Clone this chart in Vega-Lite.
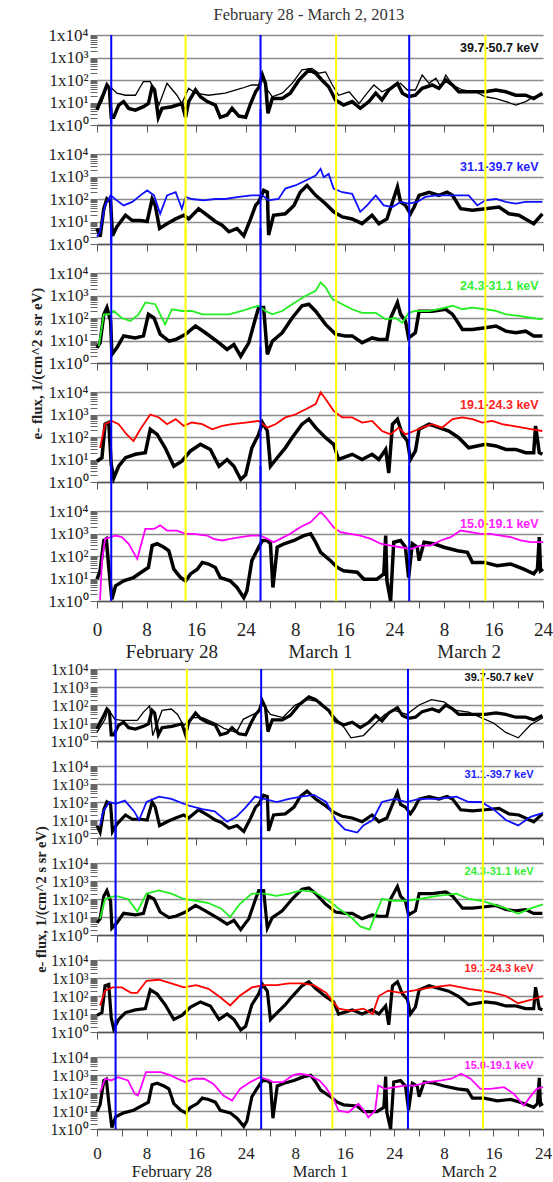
{
"$schema": "https://vega.github.io/schema/vega-lite/v6.json",
"background": "white",
"padding": {"left": 29, "top": 6, "right": 8, "bottom": 0},
"title": {"text": "February 28 - March 2, 2013", "font": "Liberation Serif", "fontSize": 16.5, "fontWeight": "normal", "color": "#333", "anchor": "middle", "offset": 3, "dx": 18},
"config": {"view": {"stroke": null}},
"spacing": 0,
"columns": 1,
"align": "none",
"datasets": {
"markersTop": [{"hour":2.3,"type":"1"},{"hour":26.4,"type":"1"},{"hour":50.4,"type":"1"},{"hour":14.3,"type":"2"},{"hour":38.6,"type":"2"},{"hour":62.7,"type":"2"}],
"markersBottom": [{"hour":3.0,"type":"1"},{"hour":26.5,"type":"1"},{"hour":50.2,"type":"1"},{"hour":14.5,"type":"2"},{"hour":38.0,"type":"2"},{"hour":62.3,"type":"2"}],
"obs1": [{"hour":0,"flux":4.7},{"hour":0.5,"flux":11},{"hour":1.1,"flux":26},{"hour":1.6,"flux":60},{"hour":2.0,"flux":43},{"hour":2.3,"flux":2.2},{"hour":2.7,"flux":2.2},{"hour":3.5,"flux":7.7},{"hour":4.3,"flux":11},{"hour":5.1,"flux":5.5},{"hour":6.2,"flux":4.6},{"hour":7.5,"flux":6.5},{"hour":8.3,"flux":9},{"hour":8.9,"flux":50},{"hour":9.3,"flux":36},{"hour":9.9,"flux":2.2},{"hour":10.5,"flux":5.5},{"hour":12.1,"flux":6.5},{"hour":13.7,"flux":9},{"hour":14.3,"flux":2.2},{"hour":14.8,"flux":11},{"hour":15.9,"flux":36},{"hour":16.7,"flux":18},{"hour":17.8,"flux":11},{"hour":19.1,"flux":7.7},{"hour":19.9,"flux":2.2},{"hour":21.0,"flux":2.8},{"hour":21.8,"flux":5.5},{"hour":22.9,"flux":2.5},{"hour":24.0,"flux":2.2},{"hour":24.8,"flux":9},{"hour":25.6,"flux":30},{"hour":26.2,"flux":50},{"hour":26.7,"flux":166},{"hour":27.2,"flux":71},{"hour":27.6,"flux":3.3},{"hour":28.3,"flux":15},{"hour":29.9,"flux":15},{"hour":31.2,"flux":26},{"hour":32.6,"flux":100},{"hour":34.2,"flux":280},{"hour":35.3,"flux":200},{"hour":36.3,"flux":100},{"hour":37.4,"flux":50},{"hour":38.5,"flux":13},{"hour":39.8,"flux":7.7},{"hour":41.2,"flux":11},{"hour":42.5,"flux":5.5},{"hour":43.9,"flux":11},{"hour":45.0,"flux":26},{"hour":46.0,"flux":13},{"hour":47.1,"flux":36},{"hour":48.5,"flux":71},{"hour":49.3,"flux":26},{"hour":50.3,"flux":18},{"hour":51.4,"flux":21},{"hour":52.5,"flux":43},{"hour":54.1,"flux":60},{"hour":55.2,"flux":43},{"hour":56.3,"flux":100},{"hour":57.4,"flux":60},{"hour":58.4,"flux":30},{"hour":60.6,"flux":30},{"hour":62.7,"flux":30},{"hour":64.4,"flux":36},{"hour":66.0,"flux":30},{"hour":67.6,"flux":21},{"hour":69.2,"flux":21},{"hour":70.5,"flux":15},{"hour":71.9,"flux":26}],
"modelA1": [{"hour":0,"flux":4.7},{"hour":0.8,"flux":11},{"hour":1.6,"flux":50},{"hour":2.4,"flux":43},{"hour":3.2,"flux":26},{"hour":4.6,"flux":21},{"hour":6.2,"flux":21},{"hour":7.0,"flux":50},{"hour":7.5,"flux":85},{"hour":8.6,"flux":85},{"hour":9.4,"flux":26},{"hour":10.0,"flux":7.7},{"hour":11.3,"flux":71},{"hour":12.9,"flux":21},{"hour":13.7,"flux":9},{"hour":14.8,"flux":43},{"hour":15.9,"flux":26},{"hour":18.0,"flux":21},{"hour":20.7,"flux":26},{"hour":23.4,"flux":43},{"hour":25.0,"flux":60},{"hour":26.1,"flux":60},{"hour":26.9,"flux":140},{"hour":27.5,"flux":36},{"hour":28.3,"flux":18},{"hour":29.9,"flux":26},{"hour":31.5,"flux":71},{"hour":33.1,"flux":280},{"hour":34.7,"flux":330},{"hour":35.8,"flux":200},{"hour":36.9,"flux":230},{"hour":38.0,"flux":60},{"hour":39.0,"flux":21},{"hour":40.7,"flux":30},{"hour":42.3,"flux":9},{"hour":43.6,"flux":26},{"hour":44.7,"flux":60},{"hour":46.0,"flux":30},{"hour":47.7,"flux":50},{"hour":49.0,"flux":71},{"hour":50.1,"flux":36},{"hour":51.4,"flux":36},{"hour":52.5,"flux":166},{"hour":53.6,"flux":71},{"hour":54.7,"flux":120},{"hour":55.5,"flux":50},{"hour":56.3,"flux":166},{"hour":57.4,"flux":60},{"hour":59.0,"flux":36},{"hour":61.1,"flux":30},{"hour":62.7,"flux":18},{"hour":64.4,"flux":15},{"hour":66.0,"flux":11},{"hour":67.6,"flux":7.7},{"hour":69.2,"flux":11},{"hour":70.5,"flux":18},{"hour":71.9,"flux":21}],
"obs2": [{"hour":0,"flux":4.9},{"hour":0.5,"flux":2.1},{"hour":1.1,"flux":37},{"hour":1.6,"flux":100},{"hour":2.2,"flux":74},{"hour":2.5,"flux":2.3},{"hour":3.2,"flux":5.8},{"hour":4.6,"flux":19},{"hour":5.7,"flux":11},{"hour":7.0,"flux":11},{"hour":8.1,"flux":10},{"hour":8.9,"flux":100},{"hour":9.4,"flux":52},{"hour":10.1,"flux":4.9},{"hour":11.3,"flux":8},{"hour":12.7,"flux":13},{"hour":14.0,"flux":19},{"hour":14.8,"flux":13},{"hour":16.4,"flux":37},{"hour":17.8,"flux":19},{"hour":19.1,"flux":10},{"hour":20.2,"flux":6.9},{"hour":21.3,"flux":3.5},{"hour":22.6,"flux":4.9},{"hour":23.7,"flux":2.3},{"hour":24.8,"flux":13},{"hour":25.6,"flux":52},{"hour":26.1,"flux":74},{"hour":26.9,"flux":240},{"hour":27.5,"flux":200},{"hour":27.7,"flux":2.5},{"hour":28.5,"flux":19},{"hour":30.4,"flux":22},{"hour":31.8,"flux":52},{"hour":32.8,"flux":200},{"hour":33.9,"flux":400},{"hour":35.3,"flux":145},{"hour":36.9,"flux":62},{"hour":38.2,"flux":27},{"hour":39.6,"flux":16},{"hour":41.2,"flux":13},{"hour":42.8,"flux":8},{"hour":44.4,"flux":19},{"hour":45.5,"flux":8},{"hour":46.8,"flux":13},{"hour":47.7,"flux":74},{"hour":48.5,"flux":340},{"hour":49.0,"flux":74},{"hour":49.8,"flux":52},{"hour":50.6,"flux":22},{"hour":51.2,"flux":44},{"hour":52.0,"flux":145},{"hour":53.6,"flux":200},{"hour":55.2,"flux":145},{"hour":56.5,"flux":200},{"hour":57.4,"flux":145},{"hour":58.7,"flux":37},{"hour":60.6,"flux":32},{"hour":62.7,"flux":37},{"hour":64.9,"flux":44},{"hour":66.5,"flux":22},{"hour":68.1,"flux":19},{"hour":70.5,"flux":8},{"hour":71.9,"flux":22}],
"modelA2": [{"hour":0,"flux":2.1},{"hour":0.5,"flux":3.5},{"hour":1.3,"flux":52},{"hour":2.2,"flux":145},{"hour":3.2,"flux":87},{"hour":4.3,"flux":52},{"hour":5.7,"flux":74},{"hour":7.0,"flux":145},{"hour":8.1,"flux":240},{"hour":9.2,"flux":145},{"hour":10.2,"flux":22},{"hour":11.3,"flux":145},{"hour":12.7,"flux":200},{"hour":13.7,"flux":37},{"hour":14.3,"flux":123},{"hour":15.3,"flux":100},{"hour":17.2,"flux":87},{"hour":19.1,"flux":100},{"hour":20.7,"flux":100},{"hour":22.9,"flux":123},{"hour":25.0,"flux":145},{"hour":26.7,"flux":145},{"hour":27.7,"flux":87},{"hour":29.3,"flux":100},{"hour":30.4,"flux":290},{"hour":32.0,"flux":400},{"hour":33.7,"flux":660},{"hour":35.3,"flux":1100},{"hour":36.1,"flux":2200},{"hour":36.6,"flux":930},{"hour":37.4,"flux":1300},{"hour":38.2,"flux":290},{"hour":39.6,"flux":200},{"hour":41.2,"flux":170},{"hour":42.5,"flux":27},{"hour":43.6,"flux":52},{"hour":45.0,"flux":145},{"hour":46.3,"flux":52},{"hour":47.7,"flux":44},{"hour":49.0,"flux":74},{"hour":50.3,"flux":62},{"hour":51.7,"flux":74},{"hour":53.0,"flux":123},{"hour":54.7,"flux":145},{"hour":56.3,"flux":145},{"hour":57.9,"flux":145},{"hour":60.0,"flux":145},{"hour":61.4,"flux":52},{"hour":62.7,"flux":87},{"hour":64.4,"flux":100},{"hour":66.0,"flux":74},{"hour":67.6,"flux":62},{"hour":69.2,"flux":74},{"hour":71.9,"flux":74}],
"obs3": [{"hour":0,"flux":4.7},{"hour":0.5,"flux":7.9},{"hour":1.1,"flux":145},{"hour":1.6,"flux":290},{"hour":2.2,"flux":74},{"hour":2.4,"flux":2.4},{"hour":3.2,"flux":4.7},{"hour":4.3,"flux":16},{"hour":6.2,"flux":13},{"hour":7.5,"flux":16},{"hour":8.3,"flux":145},{"hour":9.2,"flux":100},{"hour":10.2,"flux":19},{"hour":11.6,"flux":9.3},{"hour":12.7,"flux":11},{"hour":14.3,"flux":19},{"hour":15.9,"flux":44},{"hour":17.5,"flux":22},{"hour":19.7,"flux":7.9},{"hour":21.0,"flux":4},{"hour":22.1,"flux":6.6},{"hour":23.2,"flux":2},{"hour":24.5,"flux":7.9},{"hour":25.6,"flux":100},{"hour":26.1,"flux":290},{"hour":26.9,"flux":290},{"hour":27.5,"flux":2.4},{"hour":28.3,"flux":9.3},{"hour":29.9,"flux":22},{"hour":31.5,"flux":100},{"hour":33.1,"flux":350},{"hour":34.2,"flux":410},{"hour":35.3,"flux":200},{"hour":36.9,"flux":52},{"hour":38.5,"flux":19},{"hour":40.1,"flux":16},{"hour":41.2,"flux":16},{"hour":42.8,"flux":7.9},{"hour":44.4,"flux":13},{"hour":45.5,"flux":11},{"hour":46.8,"flux":11},{"hour":47.4,"flux":100},{"hour":48.5,"flux":490},{"hour":49.0,"flux":145},{"hour":49.8,"flux":74},{"hour":50.3,"flux":13},{"hour":51.4,"flux":22},{"hour":52.0,"flux":200},{"hour":54.1,"flux":200},{"hour":56.3,"flux":245},{"hour":57.4,"flux":145},{"hour":59.0,"flux":31},{"hour":60.6,"flux":31},{"hour":62.7,"flux":37},{"hour":64.4,"flux":44},{"hour":66.0,"flux":26},{"hour":67.6,"flux":22},{"hour":69.2,"flux":26},{"hour":70.5,"flux":16},{"hour":71.9,"flux":16}],
"modelA3": [{"hour":0.3,"flux":5.6},{"hour":1.1,"flux":145},{"hour":1.9,"flux":145},{"hour":2.7,"flux":205},{"hour":4.0,"flux":100},{"hour":5.4,"flux":74},{"hour":6.7,"flux":145},{"hour":7.8,"flux":490},{"hour":9.4,"flux":410},{"hour":10.2,"flux":145},{"hour":11.0,"flux":52},{"hour":12.1,"flux":245},{"hour":13.7,"flux":205},{"hour":15.3,"flux":205},{"hour":17.0,"flux":145},{"hour":19.1,"flux":145},{"hour":21.3,"flux":145},{"hour":23.4,"flux":205},{"hour":25.0,"flux":290},{"hour":26.1,"flux":350},{"hour":27.2,"flux":205},{"hour":28.3,"flux":145},{"hour":29.9,"flux":205},{"hour":31.5,"flux":410},{"hour":33.7,"flux":970},{"hour":35.3,"flux":1600},{"hour":36.1,"flux":3800},{"hour":36.9,"flux":2300},{"hour":38.0,"flux":690},{"hour":39.6,"flux":410},{"hour":41.2,"flux":245},{"hour":42.8,"flux":170},{"hour":45.0,"flux":170},{"hour":46.6,"flux":87},{"hour":48.2,"flux":100},{"hour":49.3,"flux":62},{"hour":50.3,"flux":170},{"hour":51.4,"flux":205},{"hour":53.6,"flux":205},{"hour":55.2,"flux":245},{"hour":57.4,"flux":350},{"hour":59.0,"flux":245},{"hour":60.6,"flux":290},{"hour":62.7,"flux":245},{"hour":64.4,"flux":205},{"hour":66.0,"flux":145},{"hour":68.1,"flux":123},{"hour":70.3,"flux":100},{"hour":71.9,"flux":87}],
"obs4": [{"hour":0,"flux":8.4},{"hour":0.8,"flux":12},{"hour":1.3,"flux":370},{"hour":1.9,"flux":440},{"hour":2.3,"flux":6},{"hour":2.7,"flux":1.5},{"hour":3.5,"flux":5},{"hour":4.6,"flux":12},{"hour":6.2,"flux":17},{"hour":7.8,"flux":20},{"hour":8.6,"flux":220},{"hour":9.7,"flux":130},{"hour":11.0,"flux":33},{"hour":12.4,"flux":5},{"hour":13.7,"flux":8.4},{"hour":15.1,"flux":24},{"hour":16.7,"flux":47},{"hour":18.3,"flux":28},{"hour":19.7,"flux":5},{"hour":21.0,"flux":10},{"hour":22.1,"flux":5},{"hour":23.2,"flux":1.3},{"hour":24.0,"flux":2.1},{"hour":25.0,"flux":33},{"hour":26.1,"flux":130},{"hour":26.7,"flux":440},{"hour":27.5,"flux":185},{"hour":28.0,"flux":5},{"hour":29.1,"flux":12},{"hour":30.4,"flux":33},{"hour":31.5,"flux":93},{"hour":33.1,"flux":370},{"hour":34.2,"flux":620},{"hour":35.3,"flux":260},{"hour":36.9,"flux":93},{"hour":38.2,"flux":47},{"hour":39.0,"flux":10},{"hour":41.2,"flux":17},{"hour":42.8,"flux":10},{"hour":44.4,"flux":17},{"hour":45.5,"flux":10},{"hour":46.6,"flux":28},{"hour":47.1,"flux":2.5},{"hour":47.7,"flux":370},{"hour":48.5,"flux":620},{"hour":49.3,"flux":130},{"hour":50.1,"flux":66},{"hour":50.6,"flux":10},{"hour":51.4,"flux":24},{"hour":52.0,"flux":220},{"hour":53.6,"flux":370},{"hour":55.2,"flux":260},{"hour":56.8,"flux":185},{"hour":58.4,"flux":93},{"hour":60.0,"flux":33},{"hour":62.7,"flux":47},{"hour":64.4,"flux":40},{"hour":66.0,"flux":28},{"hour":67.6,"flux":28},{"hour":69.2,"flux":20},{"hour":70.5,"flux":20},{"hour":70.8,"flux":310},{"hour":71.4,"flux":20},{"hour":71.9,"flux":17}],
"modelA4": [{"hour":0.5,"flux":33},{"hour":1.3,"flux":370},{"hour":2.4,"flux":520},{"hour":3.5,"flux":370},{"hour":4.8,"flux":130},{"hour":5.9,"flux":66},{"hour":7.0,"flux":220},{"hour":8.6,"flux":1000},{"hour":10.0,"flux":740},{"hour":11.3,"flux":370},{"hour":12.7,"flux":620},{"hour":14.0,"flux":310},{"hour":15.3,"flux":440},{"hour":17.0,"flux":370},{"hour":18.6,"flux":220},{"hour":20.2,"flux":310},{"hour":21.8,"flux":370},{"hour":24.0,"flux":440},{"hour":26.1,"flux":520},{"hour":27.5,"flux":260},{"hour":28.8,"flux":370},{"hour":30.4,"flux":740},{"hour":32.0,"flux":1000},{"hour":33.7,"flux":1700},{"hour":35.3,"flux":2900},{"hour":36.1,"flux":9700},{"hour":36.9,"flux":4900},{"hour":38.2,"flux":1450},{"hour":39.6,"flux":740},{"hour":41.2,"flux":740},{"hour":42.8,"flux":440},{"hour":44.4,"flux":520},{"hour":46.0,"flux":185},{"hour":47.4,"flux":130},{"hour":48.7,"flux":260},{"hour":49.8,"flux":130},{"hour":51.2,"flux":185},{"hour":52.5,"flux":260},{"hour":54.1,"flux":370},{"hour":55.7,"flux":260},{"hour":57.4,"flux":620},{"hour":59.0,"flux":740},{"hour":60.6,"flux":620},{"hour":62.2,"flux":440},{"hour":63.8,"flux":520},{"hour":65.4,"flux":370},{"hour":67.1,"flux":310},{"hour":68.7,"flux":260},{"hour":70.3,"flux":220},{"hour":71.9,"flux":185}],
"obs5": [{"hour":0,"flux":9.3},{"hour":0.5,"flux":22},{"hour":1.1,"flux":490},{"hour":1.5,"flux":580},{"hour":1.9,"flux":31},{"hour":2.4,"flux":1.2},{"hour":3.0,"flux":4.7},{"hour":4.3,"flux":7.9},{"hour":5.9,"flux":11},{"hour":7.5,"flux":22},{"hour":8.3,"flux":31},{"hour":8.9,"flux":290},{"hour":9.7,"flux":350},{"hour":10.8,"flux":245},{"hour":11.6,"flux":170},{"hour":12.4,"flux":26},{"hour":13.5,"flux":11},{"hour":14.3,"flux":7.9},{"hour":15.1,"flux":16},{"hour":16.2,"flux":26},{"hour":17.0,"flux":52},{"hour":18.0,"flux":44},{"hour":19.1,"flux":31},{"hour":19.9,"flux":11},{"hour":21.5,"flux":7.9},{"hour":22.6,"flux":4},{"hour":23.7,"flux":1.4},{"hour":24.2,"flux":2.8},{"hour":25.0,"flux":62},{"hour":25.8,"flux":170},{"hour":26.7,"flux":490},{"hour":27.5,"flux":490},{"hour":28.0,"flux":350},{"hour":28.4,"flux":4},{"hour":29.1,"flux":245},{"hour":30.2,"flux":350},{"hour":31.8,"flux":490},{"hour":33.4,"flux":810},{"hour":34.5,"flux":970},{"hour":35.3,"flux":410},{"hour":36.1,"flux":145},{"hour":37.7,"flux":62},{"hour":38.8,"flux":31},{"hour":39.8,"flux":22},{"hour":42.0,"flux":19},{"hour":43.1,"flux":9.3},{"hour":45.2,"flux":9.3},{"hour":46.3,"flux":16},{"hour":46.6,"flux":810},{"hour":46.8,"flux":7.9},{"hour":47.4,"flux":1},{"hour":47.9,"flux":410},{"hour":49.0,"flux":490},{"hour":49.8,"flux":245},{"hour":50.3,"flux":11},{"hour":50.9,"flux":350},{"hour":51.7,"flux":245},{"hour":52.0,"flux":62},{"hour":52.8,"flux":410},{"hour":54.4,"flux":350},{"hour":56.0,"flux":245},{"hour":58.2,"flux":170},{"hour":59.8,"flux":145},{"hour":60.6,"flux":52},{"hour":62.5,"flux":52},{"hour":64.6,"flux":37},{"hour":66.8,"flux":44},{"hour":68.9,"flux":26},{"hour":70.5,"flux":16},{"hour":71.1,"flux":26},{"hour":71.4,"flux":690},{"hour":71.6,"flux":22},{"hour":72,"flux":26}],
"modelA5": [{"hour":0.5,"flux":1.1},{"hour":0.8,"flux":62},{"hour":1.3,"flux":580},{"hour":2.2,"flux":690},{"hour":3.0,"flux":810},{"hour":4.0,"flux":690},{"hour":5.1,"flux":350},{"hour":5.9,"flux":145},{"hour":6.5,"flux":74},{"hour":7.0,"flux":245},{"hour":7.8,"flux":1600},{"hour":9.2,"flux":1600},{"hour":10.2,"flux":2300},{"hour":11.3,"flux":1350},{"hour":12.9,"flux":1350},{"hour":14.3,"flux":970},{"hour":15.6,"flux":970},{"hour":17.8,"flux":810},{"hour":18.8,"flux":580},{"hour":20.2,"flux":490},{"hour":21.5,"flux":580},{"hour":23.2,"flux":690},{"hour":24.8,"flux":810},{"hour":26.4,"flux":810},{"hour":27.5,"flux":580},{"hour":28.5,"flux":410},{"hour":29.6,"flux":580},{"hour":31.2,"flux":970},{"hour":32.8,"flux":1900},{"hour":34.5,"flux":3200},{"hour":36.1,"flux":9100},{"hour":36.9,"flux":5400},{"hour":38.2,"flux":1900},{"hour":39.3,"flux":1150},{"hour":40.9,"flux":970},{"hour":42.5,"flux":810},{"hour":44.2,"flux":580},{"hour":45.8,"flux":350},{"hour":47.4,"flux":290},{"hour":49.0,"flux":245},{"hour":50.6,"flux":205},{"hour":52.2,"flux":290},{"hour":53.8,"flux":290},{"hour":55.5,"flux":490},{"hour":57.1,"flux":690},{"hour":58.7,"flux":1350},{"hour":60.3,"flux":1150},{"hour":61.9,"flux":970},{"hour":63.5,"flux":970},{"hour":65.2,"flux":810},{"hour":66.8,"flux":690},{"hour":68.4,"flux":490},{"hour":70.0,"flux":410},{"hour":72,"flux":410}],
"modelB1": [{"hour":0,"flux":3},{"hour":1.3,"flux":16},{"hour":1.8,"flux":59},{"hour":2.9,"flux":16},{"hour":4,"flux":14},{"hour":6.5,"flux":14},{"hour":7.5,"flux":40},{"hour":8.5,"flux":90},{"hour":9,"flux":2},{"hour":10.5,"flux":50},{"hour":12,"flux":60},{"hour":13,"flux":30},{"hour":14,"flux":7},{"hour":15.5,"flux":20},{"hour":17,"flux":20},{"hour":19,"flux":10},{"hour":20.5,"flux":5},{"hour":22.5,"flux":3},{"hour":23.6,"flux":16},{"hour":25.8,"flux":38},{"hour":26.8,"flux":110},{"hour":28,"flux":30},{"hour":30,"flux":20},{"hour":32,"flux":100},{"hour":34,"flux":200},{"hour":36,"flux":150},{"hour":38,"flux":30},{"hour":40,"flux":5},{"hour":41,"flux":1.5},{"hour":43,"flux":2},{"hour":45,"flux":10},{"hour":46.5,"flux":30},{"hour":48,"flux":50},{"hour":50,"flux":30},{"hour":52,"flux":100},{"hour":54,"flux":200},{"hour":56,"flux":150},{"hour":58,"flux":50},{"hour":60,"flux":40},{"hour":62,"flux":20},{"hour":64,"flux":10},{"hour":66,"flux":3},{"hour":68,"flux":1.5},{"hour":70,"flux":8},{"hour":72,"flux":20}],
"modelB2": [{"hour":0.5,"flux":5},{"hour":1,"flux":30},{"hour":2,"flux":100},{"hour":3,"flux":80},{"hour":4.5,"flux":120},{"hour":6,"flux":30},{"hour":6.8,"flux":10},{"hour":8,"flux":100},{"hour":10,"flux":200},{"hour":12,"flux":150},{"hour":14,"flux":80},{"hour":15,"flux":60},{"hour":17,"flux":40},{"hour":19,"flux":30},{"hour":21,"flux":8},{"hour":22.5,"flux":15},{"hour":24,"flux":50},{"hour":25.5,"flux":200},{"hour":27,"flux":150},{"hour":29,"flux":100},{"hour":31,"flux":150},{"hour":33,"flux":200},{"hour":35,"flux":250},{"hour":37,"flux":100},{"hour":38.5,"flux":10},{"hour":40,"flux":3},{"hour":42,"flux":2},{"hour":43,"flux":5},{"hour":44.5,"flux":10},{"hour":46,"flux":100},{"hour":48,"flux":150},{"hour":50,"flux":100},{"hour":52,"flux":150},{"hour":55,"flux":150},{"hour":58,"flux":200},{"hour":60,"flux":100},{"hour":62,"flux":100},{"hour":64,"flux":40},{"hour":66,"flux":10},{"hour":68,"flux":5},{"hour":70,"flux":15},{"hour":72,"flux":25}],
"modelB3": [{"hour":0.5,"flux":8},{"hour":1.3,"flux":100},{"hour":3,"flux":150},{"hour":5,"flux":100},{"hour":6.5,"flux":20},{"hour":8,"flux":200},{"hour":10,"flux":300},{"hour":12,"flux":200},{"hour":14,"flux":100},{"hour":16,"flux":80},{"hour":18,"flux":60},{"hour":20,"flux":30},{"hour":21.5,"flux":10},{"hour":23,"flux":50},{"hour":25,"flux":200},{"hour":27,"flux":200},{"hour":29,"flux":150},{"hour":31,"flux":200},{"hour":33,"flux":300},{"hour":35,"flux":250},{"hour":37,"flux":100},{"hour":39,"flux":30},{"hour":41,"flux":10},{"hour":42.5,"flux":3},{"hour":44,"flux":2},{"hour":45,"flux":15},{"hour":46,"flux":100},{"hour":48,"flux":80},{"hour":50,"flux":80},{"hour":52,"flux":100},{"hour":55,"flux":150},{"hour":58,"flux":200},{"hour":60,"flux":100},{"hour":62,"flux":80},{"hour":64,"flux":50},{"hour":66,"flux":30},{"hour":68,"flux":15},{"hour":70,"flux":30},{"hour":72,"flux":50}],
"modelB4": [{"hour":0.5,"flux":30},{"hour":1.3,"flux":200},{"hour":2.5,"flux":300},{"hour":4,"flux":300},{"hour":5.5,"flux":150},{"hour":6.5,"flux":150},{"hour":8,"flux":700},{"hour":10,"flux":800},{"hour":12,"flux":500},{"hour":14,"flux":300},{"hour":16,"flux":400},{"hour":18,"flux":250},{"hour":20,"flux":80},{"hour":21.5,"flux":30},{"hour":23,"flux":100},{"hour":25,"flux":300},{"hour":27,"flux":400},{"hour":29,"flux":400},{"hour":31,"flux":500},{"hour":33,"flux":500},{"hour":35,"flux":400},{"hour":37,"flux":150},{"hour":39,"flux":20},{"hour":41,"flux":15},{"hour":43,"flux":20},{"hour":44.5,"flux":10},{"hour":45.5,"flux":100},{"hour":47,"flux":200},{"hour":49,"flux":150},{"hour":51,"flux":200},{"hour":54,"flux":300},{"hour":57,"flux":400},{"hour":60,"flux":250},{"hour":62,"flux":200},{"hour":64,"flux":150},{"hour":66,"flux":100},{"hour":68,"flux":40},{"hour":70,"flux":60},{"hour":72,"flux":100}],
"modelB5": [{"hour":0.5,"flux":110},{"hour":1.3,"flux":620},{"hour":2.3,"flux":500},{"hour":3.4,"flux":760},{"hour":5.0,"flux":500},{"hour":6.1,"flux":90},{"hour":6.6,"flux":72},{"hour":7.1,"flux":210},{"hour":7.9,"flux":1450},{"hour":9.3,"flux":1450},{"hour":10.3,"flux":1450},{"hour":11.9,"flux":950},{"hour":13.0,"flux":620},{"hour":14.3,"flux":400},{"hour":15.7,"flux":620},{"hour":17.3,"flux":620},{"hour":18.8,"flux":320},{"hour":20.4,"flux":72},{"hour":21.8,"flux":38},{"hour":23.1,"flux":170},{"hour":24.7,"flux":400},{"hour":26.3,"flux":760},{"hour":27.9,"flux":500},{"hour":28.4,"flux":400},{"hour":30.0,"flux":400},{"hour":31.6,"flux":950},{"hour":32.7,"flux":1170},{"hour":34.3,"flux":950},{"hour":35.9,"flux":500},{"hour":36.9,"flux":210},{"hour":38.2,"flux":47},{"hour":39.0,"flux":10.5},{"hour":40.6,"flux":8.5},{"hour":42.2,"flux":25},{"hour":43.3,"flux":8.5},{"hour":43.8,"flux":4.5},{"hour":44.9,"flux":10.5},{"hour":45.4,"flux":260},{"hour":46.5,"flux":170},{"hour":48.1,"flux":210},{"hour":49.7,"flux":260},{"hour":51.3,"flux":260},{"hour":53.4,"flux":400},{"hour":55.6,"flux":500},{"hour":57.2,"flux":620},{"hour":58.8,"flux":1170},{"hour":60.3,"flux":620},{"hour":61.9,"flux":170},{"hour":63.5,"flux":170},{"hour":65.7,"flux":210},{"hour":67.3,"flux":90},{"hour":68.9,"flux":20},{"hour":69.9,"flux":59},{"hour":71.0,"flux":170},{"hour":72,"flux":210}]
},
"concat": [
{"bounds": "flush", "spacing": 29, "vconcat": [
{"width": 446, "height": 90, "layer": [
{"data": {"name": "obs1"}, "mark": {"type": "line", "color": "#000", "strokeWidth": 3.5}, "encoding": {"x": {"field": "hour", "type": "quantitative", "scale": {"domain": [0, 72], "nice": false, "zero": false}, "axis": {"values": [0,4,8,12,16,20,24,28,32,36,40,44,48,52,56,60,64,68,72], "labels": false, "title": null, "grid": false, "tickSize": 7, "tickColor": "#555", "domainColor": "#555", "domainWidth": 1.5}}, "y": {"field": "flux", "type": "quantitative", "scale": {"type": "log", "domain": [1, 10000], "nice": false}, "axis": {"values": [1,2,3,4,5,6,7,8,9,10,20,30,40,50,60,70,80,90,100,200,300,400,500,600,700,800,900,1000,2000,3000,4000,5000,6000,7000,8000,9000,10000], "labelExpr": "datum.value == 1 ? '1x10⁰' : datum.value == 10 ? '1x10¹' : datum.value == 100 ? '1x10²' : datum.value == 1000 ? '1x10³' : datum.value == 10000 ? '1x10⁴' : ''", "labelOverlap": false, "labelBound": false, "labelFlush": false, "grid": true, "gridColor": "#8c8c8c", "gridWidth": 1.5, "gridOpacity": {"condition": {"test": "datum.value == 1 || datum.value == 10 || datum.value == 100 || datum.value == 1000 || datum.value == 10000", "value": 1}, "value": 0}, "tickSize": 7, "tickColor": "#666", "domain": false, "title": null, "labelFont": "Liberation Serif", "labelFontSize": 17, "labelColor": "#222", "labelPadding": 2}}}},
{"data": {"name": "modelA1"}, "mark": {"type": "line", "color": "#000", "strokeWidth": 1.3}, "encoding": {"x": {"field": "hour", "type": "quantitative"}, "y": {"field": "flux", "type": "quantitative"}}},
{"data": {"values": [{"channel": "39.7-50.7 keV"}]}, "mark": {"type": "text", "align": "right", "baseline": "middle", "font": "Liberation Sans", "fontWeight": "bold", "fontSize": 12.5, "color": "#111"}, "encoding": {"text": {"field": "channel"}, "x": {"datum": 71.3, "type": "quantitative"}, "y": {"datum": 2600, "type": "quantitative"}}},
{"data": {"name": "markersTop"}, "mark": {"type": "rule", "strokeWidth": 2}, "encoding": {"x": {"field": "hour", "type": "quantitative"}, "y": {"datum": 1, "type": "quantitative"}, "y2": {"datum": 10000}, "color": {"field": "type", "type": "nominal", "scale": {"domain": ["1", "2"], "range": ["#0000ff", "#ffff00"]}, "legend": null}}}
]},
{"width": 446, "height": 90, "layer": [
{"data": {"name": "obs2"}, "mark": {"type": "line", "color": "#000", "strokeWidth": 3.5}, "encoding": {"x": {"field": "hour", "type": "quantitative", "scale": {"domain": [0, 72], "nice": false, "zero": false}, "axis": {"values": [0,4,8,12,16,20,24,28,32,36,40,44,48,52,56,60,64,68,72], "labels": false, "title": null, "grid": false, "tickSize": 7, "tickColor": "#555", "domainColor": "#555", "domainWidth": 1.5}}, "y": {"field": "flux", "type": "quantitative", "scale": {"type": "log", "domain": [1, 10000], "nice": false}, "axis": {"values": [1,2,3,4,5,6,7,8,9,10,20,30,40,50,60,70,80,90,100,200,300,400,500,600,700,800,900,1000,2000,3000,4000,5000,6000,7000,8000,9000,10000], "labelExpr": "datum.value == 1 ? '1x10⁰' : datum.value == 10 ? '1x10¹' : datum.value == 100 ? '1x10²' : datum.value == 1000 ? '1x10³' : datum.value == 10000 ? '1x10⁴' : ''", "labelOverlap": false, "labelBound": false, "labelFlush": false, "grid": true, "gridColor": "#8c8c8c", "gridWidth": 1.5, "gridOpacity": {"condition": {"test": "datum.value == 1 || datum.value == 10 || datum.value == 100 || datum.value == 1000 || datum.value == 10000", "value": 1}, "value": 0}, "tickSize": 7, "tickColor": "#666", "domain": false, "title": null, "labelFont": "Liberation Serif", "labelFontSize": 17, "labelColor": "#222", "labelPadding": 2}}}},
{"data": {"name": "modelA2"}, "mark": {"type": "line", "color": "#1010ff", "strokeWidth": 1.8}, "encoding": {"x": {"field": "hour", "type": "quantitative"}, "y": {"field": "flux", "type": "quantitative"}}},
{"data": {"values": [{"channel": "31.1-39.7 keV"}]}, "mark": {"type": "text", "align": "right", "baseline": "middle", "font": "Liberation Sans", "fontWeight": "bold", "fontSize": 12.5, "color": "#2222ff"}, "encoding": {"text": {"field": "channel"}, "x": {"datum": 71.3, "type": "quantitative"}, "y": {"datum": 2600, "type": "quantitative"}}},
{"data": {"name": "markersTop"}, "mark": {"type": "rule", "strokeWidth": 2}, "encoding": {"x": {"field": "hour", "type": "quantitative"}, "y": {"datum": 1, "type": "quantitative"}, "y2": {"datum": 1000000}, "color": {"field": "type", "type": "nominal", "scale": {"domain": ["1", "2"], "range": ["#0000ff", "#ffff00"]}, "legend": null}}}
]},
{"width": 446, "height": 90, "layer": [
{"data": {"name": "obs3"}, "mark": {"type": "line", "color": "#000", "strokeWidth": 3.5}, "encoding": {"x": {"field": "hour", "type": "quantitative", "scale": {"domain": [0, 72], "nice": false, "zero": false}, "axis": {"values": [0,4,8,12,16,20,24,28,32,36,40,44,48,52,56,60,64,68,72], "labels": false, "title": null, "grid": false, "tickSize": 7, "tickColor": "#555", "domainColor": "#555", "domainWidth": 1.5}}, "y": {"field": "flux", "type": "quantitative", "scale": {"type": "log", "domain": [1, 10000], "nice": false}, "axis": {"values": [1,2,3,4,5,6,7,8,9,10,20,30,40,50,60,70,80,90,100,200,300,400,500,600,700,800,900,1000,2000,3000,4000,5000,6000,7000,8000,9000,10000], "labelExpr": "datum.value == 1 ? '1x10⁰' : datum.value == 10 ? '1x10¹' : datum.value == 100 ? '1x10²' : datum.value == 1000 ? '1x10³' : datum.value == 10000 ? '1x10⁴' : ''", "labelOverlap": false, "labelBound": false, "labelFlush": false, "grid": true, "gridColor": "#8c8c8c", "gridWidth": 1.5, "gridOpacity": {"condition": {"test": "datum.value == 1 || datum.value == 10 || datum.value == 100 || datum.value == 1000 || datum.value == 10000", "value": 1}, "value": 0}, "tickSize": 7, "tickColor": "#666", "domain": false, "title": "e- flux, 1/(cm^2 s sr eV)", "titleFont": "Liberation Serif", "titleFontSize": 15, "titleFontWeight": "bold", "titleColor": "#222", "titlePadding": 3.7, "titleAnchor": "start", "titleAlign": "center", "labelFont": "Liberation Serif", "labelFontSize": 17, "labelColor": "#222", "labelPadding": 2}}}},
{"data": {"name": "modelA3"}, "mark": {"type": "line", "color": "#22ee22", "strokeWidth": 1.8}, "encoding": {"x": {"field": "hour", "type": "quantitative"}, "y": {"field": "flux", "type": "quantitative"}}},
{"data": {"values": [{"channel": "24.3-31.1 keV"}]}, "mark": {"type": "text", "align": "right", "baseline": "middle", "font": "Liberation Sans", "fontWeight": "bold", "fontSize": 12.5, "color": "#33ee33"}, "encoding": {"text": {"field": "channel"}, "x": {"datum": 71.3, "type": "quantitative"}, "y": {"datum": 2600, "type": "quantitative"}}},
{"data": {"name": "markersTop"}, "mark": {"type": "rule", "strokeWidth": 2}, "encoding": {"x": {"field": "hour", "type": "quantitative"}, "y": {"datum": 1, "type": "quantitative"}, "y2": {"datum": 1000000}, "color": {"field": "type", "type": "nominal", "scale": {"domain": ["1", "2"], "range": ["#0000ff", "#ffff00"]}, "legend": null}}}
]},
{"width": 446, "height": 90, "layer": [
{"data": {"name": "obs4"}, "mark": {"type": "line", "color": "#000", "strokeWidth": 3.5}, "encoding": {"x": {"field": "hour", "type": "quantitative", "scale": {"domain": [0, 72], "nice": false, "zero": false}, "axis": {"values": [0,4,8,12,16,20,24,28,32,36,40,44,48,52,56,60,64,68,72], "labels": false, "title": null, "grid": false, "tickSize": 7, "tickColor": "#555", "domainColor": "#555", "domainWidth": 1.5}}, "y": {"field": "flux", "type": "quantitative", "scale": {"type": "log", "domain": [1, 10000], "nice": false}, "axis": {"values": [1,2,3,4,5,6,7,8,9,10,20,30,40,50,60,70,80,90,100,200,300,400,500,600,700,800,900,1000,2000,3000,4000,5000,6000,7000,8000,9000,10000], "labelExpr": "datum.value == 1 ? '1x10⁰' : datum.value == 10 ? '1x10¹' : datum.value == 100 ? '1x10²' : datum.value == 1000 ? '1x10³' : datum.value == 10000 ? '1x10⁴' : ''", "labelOverlap": false, "labelBound": false, "labelFlush": false, "grid": true, "gridColor": "#8c8c8c", "gridWidth": 1.5, "gridOpacity": {"condition": {"test": "datum.value == 1 || datum.value == 10 || datum.value == 100 || datum.value == 1000 || datum.value == 10000", "value": 1}, "value": 0}, "tickSize": 7, "tickColor": "#666", "domain": false, "title": null, "labelFont": "Liberation Serif", "labelFontSize": 17, "labelColor": "#222", "labelPadding": 2}}}},
{"data": {"name": "modelA4"}, "mark": {"type": "line", "color": "#ff0000", "strokeWidth": 1.8}, "encoding": {"x": {"field": "hour", "type": "quantitative"}, "y": {"field": "flux", "type": "quantitative"}}},
{"data": {"values": [{"channel": "19.1-24.3 keV"}]}, "mark": {"type": "text", "align": "right", "baseline": "middle", "font": "Liberation Sans", "fontWeight": "bold", "fontSize": 12.5, "color": "#ff2222"}, "encoding": {"text": {"field": "channel"}, "x": {"datum": 71.3, "type": "quantitative"}, "y": {"datum": 2600, "type": "quantitative"}}},
{"data": {"name": "markersTop"}, "mark": {"type": "rule", "strokeWidth": 2}, "encoding": {"x": {"field": "hour", "type": "quantitative"}, "y": {"datum": 1, "type": "quantitative"}, "y2": {"datum": 1000000}, "color": {"field": "type", "type": "nominal", "scale": {"domain": ["1", "2"], "range": ["#0000ff", "#ffff00"]}, "legend": null}}}
]},
{"width": 446, "height": 90, "resolve": {"axis": {"x": "independent"}}, "layer": [
{"data": {"name": "obs5"}, "mark": {"type": "line", "color": "#000", "strokeWidth": 3.5}, "encoding": {"x": {"field": "hour", "type": "quantitative", "scale": {"domain": [0, 72], "nice": false, "zero": false}, "axis": {"values": [0,4,8,12,16,20,24,28,32,36,40,44,48,52,56,60,64,68,72], "labelExpr": "datum.value % 8 != 0 ? '' : datum.value == 0 ? '0' : datum.value % 24 == 0 ? '24' : '' + (datum.value % 24)", "labelOverlap": false, "labelFlush": false, "labelBound": false, "labelFont": "Liberation Serif", "labelFontSize": 19, "labelColor": "#222", "labelPadding": 12, "title": null, "grid": false, "tickSize": 7, "tickColor": "#555", "domainColor": "#555", "domainWidth": 1.5}}, "y": {"field": "flux", "type": "quantitative", "scale": {"type": "log", "domain": [1, 10000], "nice": false}, "axis": {"values": [1,2,3,4,5,6,7,8,9,10,20,30,40,50,60,70,80,90,100,200,300,400,500,600,700,800,900,1000,2000,3000,4000,5000,6000,7000,8000,9000,10000], "labelExpr": "datum.value == 1 ? '1x10⁰' : datum.value == 10 ? '1x10¹' : datum.value == 100 ? '1x10²' : datum.value == 1000 ? '1x10³' : datum.value == 10000 ? '1x10⁴' : ''", "labelOverlap": false, "labelBound": false, "labelFlush": false, "grid": true, "gridColor": "#8c8c8c", "gridWidth": 1.5, "gridOpacity": {"condition": {"test": "datum.value == 1 || datum.value == 10 || datum.value == 100 || datum.value == 1000 || datum.value == 10000", "value": 1}, "value": 0}, "tickSize": 7, "tickColor": "#666", "domain": false, "title": null, "labelFont": "Liberation Serif", "labelFontSize": 17, "labelColor": "#222", "labelPadding": 2}}}},
{"data": {"name": "modelA5"}, "mark": {"type": "line", "color": "#ff00ff", "strokeWidth": 1.8}, "encoding": {"x": {"field": "hour", "type": "quantitative", "axis": null}, "y": {"field": "flux", "type": "quantitative"}}},
{"data": {"values": [{"channel": "15.0-19.1 keV"}]}, "mark": {"type": "text", "align": "right", "baseline": "middle", "font": "Liberation Sans", "fontWeight": "bold", "fontSize": 12.5, "color": "#ff22ff"}, "encoding": {"text": {"field": "channel"}, "x": {"datum": 71.3, "type": "quantitative", "axis": null}, "y": {"datum": 2600, "type": "quantitative"}}},
{"data": {"name": "markersTop"}, "mark": {"type": "rule", "strokeWidth": 2}, "encoding": {"x": {"field": "hour", "type": "quantitative", "axis": {"orient": "bottom", "values": [12, 36, 60], "labelExpr": "datum.value == 12 ? 'February 28' : datum.value == 36 ? 'March 1' : 'March 2'", "ticks": false, "tickSize": 0, "domain": false, "grid": false, "title": null, "labelOverlap": false, "labelFlush": false, "labelBound": false, "labelFont": "Liberation Serif", "labelFontSize": 19, "labelColor": "#222", "labelPadding": 41}}, "y": {"datum": 1, "type": "quantitative"}, "y2": {"datum": 1000000}, "color": {"field": "type", "type": "nominal", "scale": {"domain": ["1", "2"], "range": ["#0000ff", "#ffff00"]}, "legend": null}}}
]}
]},
{"bounds": "flush", "spacing": 25, "vconcat": [
{"width": 446, "height": 72, "layer": [
{"data": {"name": "obs1"}, "mark": {"type": "line", "color": "#000", "strokeWidth": 3.2}, "encoding": {"x": {"field": "hour", "type": "quantitative", "scale": {"domain": [0, 72], "nice": false, "zero": false}, "axis": {"values": [0,4,8,12,16,20,24,28,32,36,40,44,48,52,56,60,64,68,72], "labels": false, "title": null, "grid": false, "tickSize": 7, "tickColor": "#555", "domainColor": "#555", "domainWidth": 1.5}}, "y": {"field": "flux", "type": "quantitative", "scale": {"type": "log", "domain": [1, 10000], "nice": false}, "axis": {"values": [1,2,3,4,5,6,7,8,9,10,20,30,40,50,60,70,80,90,100,200,300,400,500,600,700,800,900,1000,2000,3000,4000,5000,6000,7000,8000,9000,10000], "labelExpr": "datum.value == 1 ? '1x10⁰' : datum.value == 10 ? '1x10¹' : datum.value == 100 ? '1x10²' : datum.value == 1000 ? '1x10³' : datum.value == 10000 ? '1x10⁴' : ''", "labelOverlap": false, "labelBound": false, "labelFlush": false, "grid": true, "gridColor": "#8c8c8c", "gridWidth": 1.5, "gridOpacity": {"condition": {"test": "datum.value == 1 || datum.value == 10 || datum.value == 100 || datum.value == 1000 || datum.value == 10000", "value": 1}, "value": 0}, "tickSize": 7, "tickColor": "#666", "domain": false, "title": null, "labelFont": "Liberation Serif", "labelFontSize": 16, "labelColor": "#222", "labelPadding": 2}}}},
{"data": {"name": "modelB1"}, "mark": {"type": "line", "color": "#000", "strokeWidth": 1.3}, "encoding": {"x": {"field": "hour", "type": "quantitative"}, "y": {"field": "flux", "type": "quantitative"}}},
{"data": {"values": [{"channel": "39.7-50.7 keV"}]}, "mark": {"type": "text", "align": "right", "baseline": "middle", "font": "Liberation Sans", "fontWeight": "bold", "fontSize": 11, "color": "#111"}, "encoding": {"text": {"field": "channel"}, "x": {"datum": 70.5, "type": "quantitative"}, "y": {"datum": 3200, "type": "quantitative"}}},
{"data": {"name": "markersBottom"}, "mark": {"type": "rule", "strokeWidth": 2}, "encoding": {"x": {"field": "hour", "type": "quantitative"}, "y": {"datum": 1, "type": "quantitative"}, "y2": {"datum": 10000}, "color": {"field": "type", "type": "nominal", "scale": {"domain": ["1", "2"], "range": ["#0000ff", "#ffff00"]}, "legend": null}}}
]},
{"width": 446, "height": 72, "layer": [
{"data": {"name": "obs2"}, "mark": {"type": "line", "color": "#000", "strokeWidth": 3.2}, "encoding": {"x": {"field": "hour", "type": "quantitative", "scale": {"domain": [0, 72], "nice": false, "zero": false}, "axis": {"values": [0,4,8,12,16,20,24,28,32,36,40,44,48,52,56,60,64,68,72], "labels": false, "title": null, "grid": false, "tickSize": 7, "tickColor": "#555", "domainColor": "#555", "domainWidth": 1.5}}, "y": {"field": "flux", "type": "quantitative", "scale": {"type": "log", "domain": [1, 10000], "nice": false}, "axis": {"values": [1,2,3,4,5,6,7,8,9,10,20,30,40,50,60,70,80,90,100,200,300,400,500,600,700,800,900,1000,2000,3000,4000,5000,6000,7000,8000,9000,10000], "labelExpr": "datum.value == 1 ? '1x10⁰' : datum.value == 10 ? '1x10¹' : datum.value == 100 ? '1x10²' : datum.value == 1000 ? '1x10³' : datum.value == 10000 ? '1x10⁴' : ''", "labelOverlap": false, "labelBound": false, "labelFlush": false, "grid": true, "gridColor": "#8c8c8c", "gridWidth": 1.5, "gridOpacity": {"condition": {"test": "datum.value == 1 || datum.value == 10 || datum.value == 100 || datum.value == 1000 || datum.value == 10000", "value": 1}, "value": 0}, "tickSize": 7, "tickColor": "#666", "domain": false, "title": null, "labelFont": "Liberation Serif", "labelFontSize": 16, "labelColor": "#222", "labelPadding": 2}}}},
{"data": {"name": "modelB2"}, "mark": {"type": "line", "color": "#1010ff", "strokeWidth": 1.8}, "encoding": {"x": {"field": "hour", "type": "quantitative"}, "y": {"field": "flux", "type": "quantitative"}}},
{"data": {"values": [{"channel": "31.1-39.7 keV"}]}, "mark": {"type": "text", "align": "right", "baseline": "middle", "font": "Liberation Sans", "fontWeight": "bold", "fontSize": 11, "color": "#2222ff"}, "encoding": {"text": {"field": "channel"}, "x": {"datum": 70.5, "type": "quantitative"}, "y": {"datum": 3200, "type": "quantitative"}}},
{"data": {"name": "markersBottom"}, "mark": {"type": "rule", "strokeWidth": 2}, "encoding": {"x": {"field": "hour", "type": "quantitative"}, "y": {"datum": 1, "type": "quantitative"}, "y2": {"datum": 1000000}, "color": {"field": "type", "type": "nominal", "scale": {"domain": ["1", "2"], "range": ["#0000ff", "#ffff00"]}, "legend": null}}}
]},
{"width": 446, "height": 72, "layer": [
{"data": {"name": "obs3"}, "mark": {"type": "line", "color": "#000", "strokeWidth": 3.2}, "encoding": {"x": {"field": "hour", "type": "quantitative", "scale": {"domain": [0, 72], "nice": false, "zero": false}, "axis": {"values": [0,4,8,12,16,20,24,28,32,36,40,44,48,52,56,60,64,68,72], "labels": false, "title": null, "grid": false, "tickSize": 7, "tickColor": "#555", "domainColor": "#555", "domainWidth": 1.5}}, "y": {"field": "flux", "type": "quantitative", "scale": {"type": "log", "domain": [1, 10000], "nice": false}, "axis": {"values": [1,2,3,4,5,6,7,8,9,10,20,30,40,50,60,70,80,90,100,200,300,400,500,600,700,800,900,1000,2000,3000,4000,5000,6000,7000,8000,9000,10000], "labelExpr": "datum.value == 1 ? '1x10⁰' : datum.value == 10 ? '1x10¹' : datum.value == 100 ? '1x10²' : datum.value == 1000 ? '1x10³' : datum.value == 10000 ? '1x10⁴' : ''", "labelOverlap": false, "labelBound": false, "labelFlush": false, "grid": true, "gridColor": "#8c8c8c", "gridWidth": 1.5, "gridOpacity": {"condition": {"test": "datum.value == 1 || datum.value == 10 || datum.value == 100 || datum.value == 1000 || datum.value == 10000", "value": 1}, "value": 0}, "tickSize": 7, "tickColor": "#666", "domain": false, "title": "e- flux, 1/(cm^2 s sr eV)", "titleFont": "Liberation Serif", "titleFontSize": 14.5, "titleFontWeight": "bold", "titleColor": "#222", "titlePadding": 2, "labelFont": "Liberation Serif", "labelFontSize": 16, "labelColor": "#222", "labelPadding": 2}}}},
{"data": {"name": "modelB3"}, "mark": {"type": "line", "color": "#22ee22", "strokeWidth": 1.8}, "encoding": {"x": {"field": "hour", "type": "quantitative"}, "y": {"field": "flux", "type": "quantitative"}}},
{"data": {"values": [{"channel": "24.3-31.1 keV"}]}, "mark": {"type": "text", "align": "right", "baseline": "middle", "font": "Liberation Sans", "fontWeight": "bold", "fontSize": 11, "color": "#33ee33"}, "encoding": {"text": {"field": "channel"}, "x": {"datum": 70.5, "type": "quantitative"}, "y": {"datum": 3200, "type": "quantitative"}}},
{"data": {"name": "markersBottom"}, "mark": {"type": "rule", "strokeWidth": 2}, "encoding": {"x": {"field": "hour", "type": "quantitative"}, "y": {"datum": 1, "type": "quantitative"}, "y2": {"datum": 1000000}, "color": {"field": "type", "type": "nominal", "scale": {"domain": ["1", "2"], "range": ["#0000ff", "#ffff00"]}, "legend": null}}}
]},
{"width": 446, "height": 72, "layer": [
{"data": {"name": "obs4"}, "mark": {"type": "line", "color": "#000", "strokeWidth": 3.2}, "encoding": {"x": {"field": "hour", "type": "quantitative", "scale": {"domain": [0, 72], "nice": false, "zero": false}, "axis": {"values": [0,4,8,12,16,20,24,28,32,36,40,44,48,52,56,60,64,68,72], "labels": false, "title": null, "grid": false, "tickSize": 7, "tickColor": "#555", "domainColor": "#555", "domainWidth": 1.5}}, "y": {"field": "flux", "type": "quantitative", "scale": {"type": "log", "domain": [1, 10000], "nice": false}, "axis": {"values": [1,2,3,4,5,6,7,8,9,10,20,30,40,50,60,70,80,90,100,200,300,400,500,600,700,800,900,1000,2000,3000,4000,5000,6000,7000,8000,9000,10000], "labelExpr": "datum.value == 1 ? '1x10⁰' : datum.value == 10 ? '1x10¹' : datum.value == 100 ? '1x10²' : datum.value == 1000 ? '1x10³' : datum.value == 10000 ? '1x10⁴' : ''", "labelOverlap": false, "labelBound": false, "labelFlush": false, "grid": true, "gridColor": "#8c8c8c", "gridWidth": 1.5, "gridOpacity": {"condition": {"test": "datum.value == 1 || datum.value == 10 || datum.value == 100 || datum.value == 1000 || datum.value == 10000", "value": 1}, "value": 0}, "tickSize": 7, "tickColor": "#666", "domain": false, "title": null, "labelFont": "Liberation Serif", "labelFontSize": 16, "labelColor": "#222", "labelPadding": 2}}}},
{"data": {"name": "modelB4"}, "mark": {"type": "line", "color": "#ff0000", "strokeWidth": 1.8}, "encoding": {"x": {"field": "hour", "type": "quantitative"}, "y": {"field": "flux", "type": "quantitative"}}},
{"data": {"values": [{"channel": "19.1-24.3 keV"}]}, "mark": {"type": "text", "align": "right", "baseline": "middle", "font": "Liberation Sans", "fontWeight": "bold", "fontSize": 11, "color": "#ff2222"}, "encoding": {"text": {"field": "channel"}, "x": {"datum": 70.5, "type": "quantitative"}, "y": {"datum": 3200, "type": "quantitative"}}},
{"data": {"name": "markersBottom"}, "mark": {"type": "rule", "strokeWidth": 2}, "encoding": {"x": {"field": "hour", "type": "quantitative"}, "y": {"datum": 1, "type": "quantitative"}, "y2": {"datum": 1000000}, "color": {"field": "type", "type": "nominal", "scale": {"domain": ["1", "2"], "range": ["#0000ff", "#ffff00"]}, "legend": null}}}
]},
{"width": 446, "height": 72, "resolve": {"axis": {"x": "independent"}}, "layer": [
{"data": {"name": "obs5"}, "mark": {"type": "line", "color": "#000", "strokeWidth": 3.2}, "encoding": {"x": {"field": "hour", "type": "quantitative", "scale": {"domain": [0, 72], "nice": false, "zero": false}, "axis": {"values": [0,4,8,12,16,20,24,28,32,36,40,44,48,52,56,60,64,68,72], "labelExpr": "datum.value % 8 != 0 ? '' : datum.value == 0 ? '0' : datum.value % 24 == 0 ? '24' : '' + (datum.value % 24)", "labelOverlap": false, "labelFlush": false, "labelBound": false, "labelFont": "Liberation Serif", "labelFontSize": 17, "labelColor": "#222", "labelPadding": 9, "title": null, "grid": false, "tickSize": 7, "tickColor": "#555", "domainColor": "#555", "domainWidth": 1.5}}, "y": {"field": "flux", "type": "quantitative", "scale": {"type": "log", "domain": [1, 10000], "nice": false}, "axis": {"values": [1,2,3,4,5,6,7,8,9,10,20,30,40,50,60,70,80,90,100,200,300,400,500,600,700,800,900,1000,2000,3000,4000,5000,6000,7000,8000,9000,10000], "labelExpr": "datum.value == 1 ? '1x10⁰' : datum.value == 10 ? '1x10¹' : datum.value == 100 ? '1x10²' : datum.value == 1000 ? '1x10³' : datum.value == 10000 ? '1x10⁴' : ''", "labelOverlap": false, "labelBound": false, "labelFlush": false, "grid": true, "gridColor": "#8c8c8c", "gridWidth": 1.5, "gridOpacity": {"condition": {"test": "datum.value == 1 || datum.value == 10 || datum.value == 100 || datum.value == 1000 || datum.value == 10000", "value": 1}, "value": 0}, "tickSize": 7, "tickColor": "#666", "domain": false, "title": null, "labelFont": "Liberation Serif", "labelFontSize": 16, "labelColor": "#222", "labelPadding": 2}}}},
{"data": {"name": "modelB5"}, "mark": {"type": "line", "color": "#ff00ff", "strokeWidth": 1.8}, "encoding": {"x": {"field": "hour", "type": "quantitative", "axis": null}, "y": {"field": "flux", "type": "quantitative"}}},
{"data": {"values": [{"channel": "15.0-19.1 keV"}]}, "mark": {"type": "text", "align": "right", "baseline": "middle", "font": "Liberation Sans", "fontWeight": "bold", "fontSize": 11, "color": "#ff22ff"}, "encoding": {"text": {"field": "channel"}, "x": {"datum": 70.5, "type": "quantitative", "axis": null}, "y": {"datum": 3200, "type": "quantitative"}}},
{"data": {"name": "markersBottom"}, "mark": {"type": "rule", "strokeWidth": 2}, "encoding": {"x": {"field": "hour", "type": "quantitative", "axis": {"orient": "bottom", "values": [12, 36, 60], "labelExpr": "datum.value == 12 ? 'February 28' : datum.value == 36 ? 'March 1' : 'March 2'", "ticks": false, "tickSize": 0, "domain": false, "grid": false, "title": null, "labelOverlap": false, "labelFlush": false, "labelBound": false, "labelFont": "Liberation Serif", "labelFontSize": 16.5, "labelColor": "#222", "labelPadding": 34}}, "y": {"datum": 1, "type": "quantitative"}, "y2": {"datum": 1000000}, "color": {"field": "type", "type": "nominal", "scale": {"domain": ["1", "2"], "range": ["#0000ff", "#ffff00"]}, "legend": null}}}
]}
]}
]
}
